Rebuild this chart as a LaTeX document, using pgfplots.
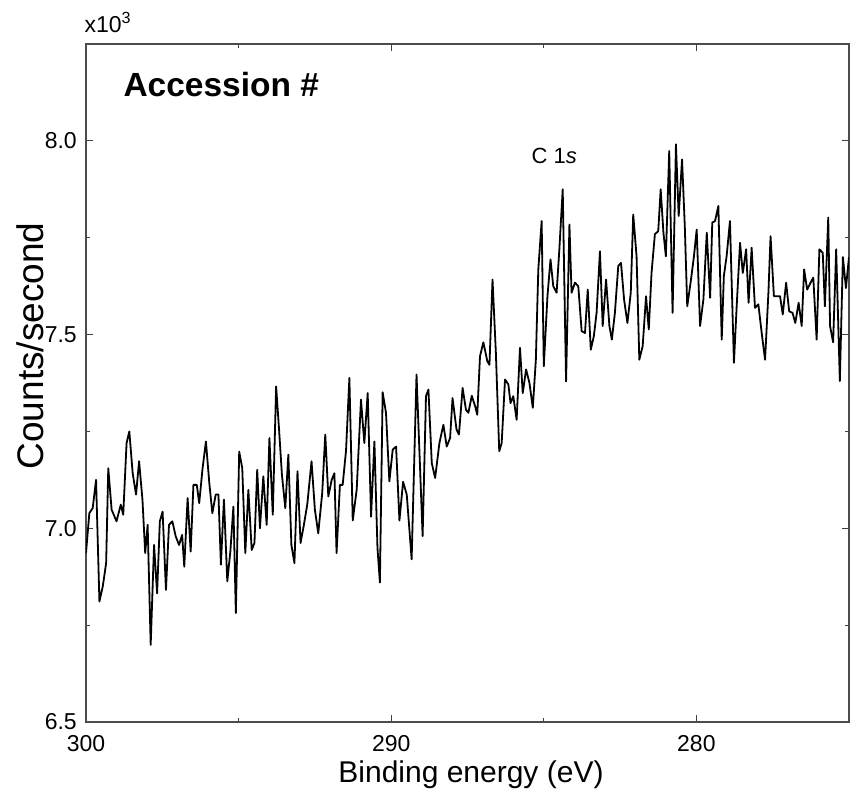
\documentclass[border=0pt]{standalone}
\usepackage{fontspec}
\setmainfont{Liberation Sans}
\usepackage{pgfplots}
\pgfplotsset{compat=1.18}
\begin{document}
\begin{tikzpicture}
\begin{axis}[
  scale only axis, width=763pt, height=678pt,
  x dir=reverse, xmin=275, xmax=300, ymin=6.5, ymax=8.25,
  xtick={280,290,300}, xticklabels={280,290,300},
  minor xtick={275,285,295},
  ytick={6.5,7.0,7.5,8.0}, yticklabels={6.5,7.0,7.5,8.0},
  minor ytick={6.75,7.25,7.75},
  tick align=inside, major tick length=7pt, minor tick length=4pt,
  tick style={black!75, line width=1.1pt},
  axis line style={black!70, line width=1.5pt},
  ticklabel style={font=\fontsize{23}{27}\selectfont, inner sep=0.5pt},
  xticklabel style={yshift=-13pt},
  yticklabel style={xshift=-8.5pt},
  /pgf/number format/assume math mode=true,
  clip=true,
]
\addplot[black, line width=1.8pt, line join=round] coordinates {
(300.00,6.936) (299.89,7.039) (299.78,7.052) (299.67,7.125) (299.56,6.811) (299.45,6.850) (299.34,6.910) (299.27,7.155) (299.16,7.048) (299.00,7.018)
(298.86,7.061) (298.78,7.035) (298.67,7.220) (298.58,7.250) (298.47,7.142) (298.36,7.087) (298.26,7.173) (298.15,7.074) (298.06,6.936) (297.98,7.009)
(297.88,6.699) (297.77,6.957) (297.67,6.832) (297.58,7.018) (297.49,7.043) (297.38,6.841) (297.28,7.009) (297.17,7.018) (297.06,6.979) (296.95,6.957)
(296.85,6.983) (296.78,6.901) (296.67,7.078) (296.57,6.940) (296.48,7.112) (296.37,7.112) (296.29,7.065) (296.18,7.155) (296.07,7.224) (295.96,7.117)
(295.86,7.039) (295.75,7.087) (295.66,7.087) (295.58,6.906) (295.48,7.074) (295.37,6.863) (295.27,6.940) (295.17,7.056) (295.09,6.781) (294.98,7.198)
(294.88,7.155) (294.78,6.936) (294.68,7.099) (294.57,6.944) (294.48,6.962) (294.39,7.151) (294.30,7.000) (294.19,7.134) (294.08,7.009) (293.99,7.233)
(293.88,7.035) (293.77,7.366) (293.67,7.250) (293.58,7.138) (293.47,7.052) (293.37,7.190) (293.27,6.957) (293.17,6.910) (293.07,7.147) (292.97,6.962)
(292.86,7.009) (292.75,7.061) (292.61,7.173) (292.50,7.048) (292.39,6.987) (292.26,7.091) (292.16,7.242) (292.06,7.082) (291.95,7.125) (291.86,7.142)
(291.79,6.936) (291.68,7.112) (291.59,7.112) (291.48,7.200) (291.37,7.388) (291.26,7.020) (291.13,7.100) (290.99,7.332) (290.88,7.220) (290.77,7.349)
(290.66,7.030) (290.55,7.224) (290.45,6.950) (290.37,6.860) (290.28,7.351) (290.17,7.298) (290.06,7.121) (289.95,7.203) (289.84,7.211) (289.73,7.020)
(289.61,7.120) (289.49,7.087) (289.33,6.920) (289.17,7.397) (288.97,6.980) (288.86,7.341) (288.78,7.358) (288.67,7.168) (288.56,7.130) (288.42,7.220)
(288.29,7.267) (288.18,7.211) (288.07,7.233) (287.99,7.336) (287.86,7.255) (287.78,7.242) (287.66,7.362) (287.55,7.306) (287.47,7.298) (287.36,7.342)
(287.25,7.315) (287.18,7.293) (287.09,7.444) (286.98,7.480) (286.85,7.431) (286.78,7.422) (286.68,7.642) (286.57,7.453) (286.46,7.199) (286.38,7.220)
(286.27,7.384) (286.16,7.371) (286.09,7.323) (286.00,7.341) (285.89,7.280) (285.78,7.466) (285.69,7.349) (285.58,7.410) (285.47,7.375) (285.36,7.311)
(285.26,7.435) (285.18,7.668) (285.07,7.793) (285.00,7.418) (284.88,7.599) (284.78,7.694) (284.69,7.625) (284.58,7.608) (284.49,7.720) (284.38,7.875)
(284.27,7.379) (284.16,7.784) (284.09,7.608) (283.98,7.634) (283.87,7.625) (283.76,7.509) (283.65,7.504) (283.56,7.616) (283.46,7.461) (283.36,7.496)
(283.27,7.556) (283.16,7.715) (283.07,7.522) (282.96,7.642) (282.85,7.522) (282.77,7.487) (282.67,7.556) (282.56,7.677) (282.47,7.685) (282.37,7.591)
(282.26,7.530) (282.15,7.608) (282.07,7.810) (281.96,7.702) (281.87,7.435) (281.76,7.470) (281.65,7.599) (281.56,7.513) (281.47,7.659) (281.36,7.759)
(281.25,7.767) (281.17,7.875) (281.08,7.763) (281.00,7.702) (280.89,7.974) (280.78,7.556) (280.67,7.991) (280.58,7.806) (280.47,7.952) (280.38,7.780)
(280.30,7.573) (280.19,7.634) (280.08,7.702) (279.99,7.771) (279.88,7.522) (279.77,7.591) (279.66,7.763) (279.55,7.595) (279.48,7.789) (279.39,7.793)
(279.28,7.832) (279.17,7.487) (279.10,7.651) (279.01,7.702) (278.90,7.793) (278.77,7.427) (278.68,7.573) (278.57,7.737) (278.48,7.659) (278.37,7.720)
(278.29,7.582) (278.19,7.724) (278.08,7.569) (277.97,7.578) (277.86,7.504) (277.75,7.435) (277.64,7.608) (277.57,7.754) (277.46,7.599) (277.37,7.599)
(277.26,7.599) (277.17,7.552) (277.06,7.634) (276.96,7.560) (276.85,7.556) (276.76,7.530) (276.65,7.582) (276.55,7.522) (276.47,7.668) (276.37,7.616)
(276.26,7.634) (276.17,7.647) (276.06,7.487) (275.97,7.720) (275.86,7.711) (275.79,7.573) (275.68,7.802) (275.62,7.522) (275.52,7.480) (275.42,7.720)
(275.30,7.380) (275.20,7.700) (275.10,7.620) (275.00,7.700)
};
\end{axis}
\node[anchor=base west, font=\fontsize{23}{27}\selectfont] at (-5pt,689pt) {x10\textsuperscript{3}};
\node[anchor=base west, font=\fontsize{33.5}{40}\selectfont\bfseries] at (34pt,625pt) {Accession \#};
\node[anchor=base west, font=\fontsize{22}{26}\selectfont] at (442pt,558pt) {C 1\textit{s}};
\node[anchor=base, font=\fontsize{30}{36}\selectfont] at (385pt,-60pt) {Binding energy (eV)};
\node[anchor=center, rotate=90, font=\fontsize{37}{44}\selectfont] at (-56pt,376pt) {Counts/second};
\pgfresetboundingbox
\path[use as bounding box] (-86pt,-75pt) rectangle (765pt,722pt);
\end{tikzpicture}
\end{document}
